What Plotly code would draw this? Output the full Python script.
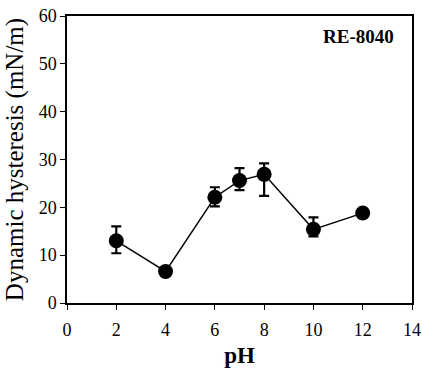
import plotly.graph_objects as go

ph = [2, 4, 6, 7, 8, 10, 12]
hysteresis = [13.0, 6.6, 22.1, 25.6, 26.9, 15.4, 18.8]
err_plus = [3.0, 0.5, 2.1, 2.6, 2.3, 2.5, 0.6]
err_minus = [2.6, 0.5, 1.9, 2.0, 4.5, 1.5, 0.6]

x_ticks = [0, 2, 4, 6, 8, 10, 12, 14]
y_ticks = [0, 10, 20, 30, 40, 50, 60]

font_family = "Liberation Serif, Times New Roman, serif"

fig = go.Figure()
fig.add_trace(go.Scatter(
    x=ph, y=hysteresis, mode="lines+markers",
    line=dict(color="black", width=1.4),
    marker=dict(color="black", size=15, symbol="circle"),
    error_y=dict(type="data", symmetric=False, array=err_plus, arrayminus=err_minus,
                 color="black", thickness=2.2, width=5),
    showlegend=False,
    cliponaxis=False,
))

fig.add_annotation(
    x=0.955, y=0.93, xref="paper", yref="paper", xanchor="right", yanchor="middle",
    text="<b>RE-8040</b>", showarrow=False,
    font=dict(family=font_family, size=19, color="black"),
)

axis_common = dict(
    showline=True, linecolor="black", linewidth=1.5, mirror=True,
    ticks="outside", ticklen=5, tickcolor="black", tickwidth=1.3,
    showgrid=False, zeroline=False, automargin=False,
    ticklabeloverflow="allow",
    tickfont=dict(family=font_family, size=18, color="black"),
)

fig.update_layout(
    width=422, height=368,
    margin=dict(l=67, r=10, t=16, b=65),
    paper_bgcolor="white", plot_bgcolor="white",
    xaxis=dict(range=[0, 14], tickvals=x_ticks, ticktext=[str(v) for v in x_ticks],
               ticklabelstandoff=5,
               title=dict(text="<b>pH</b>", font=dict(family=font_family, size=23, color="black"), standoff=8),
               **axis_common),
    yaxis=dict(range=[0, 60], tickvals=y_ticks, ticktext=[str(v) for v in y_ticks],
               title=dict(text="Dynamic hysteresis (mN/m)", font=dict(family=font_family, size=25, color="black"), standoff=8),
               **axis_common),
)

fig.write_html(
    "out.html",
    config={"displayModeBar": False},
    post_script="document.body.style.margin='0';document.body.style.overflow='hidden';",
)
